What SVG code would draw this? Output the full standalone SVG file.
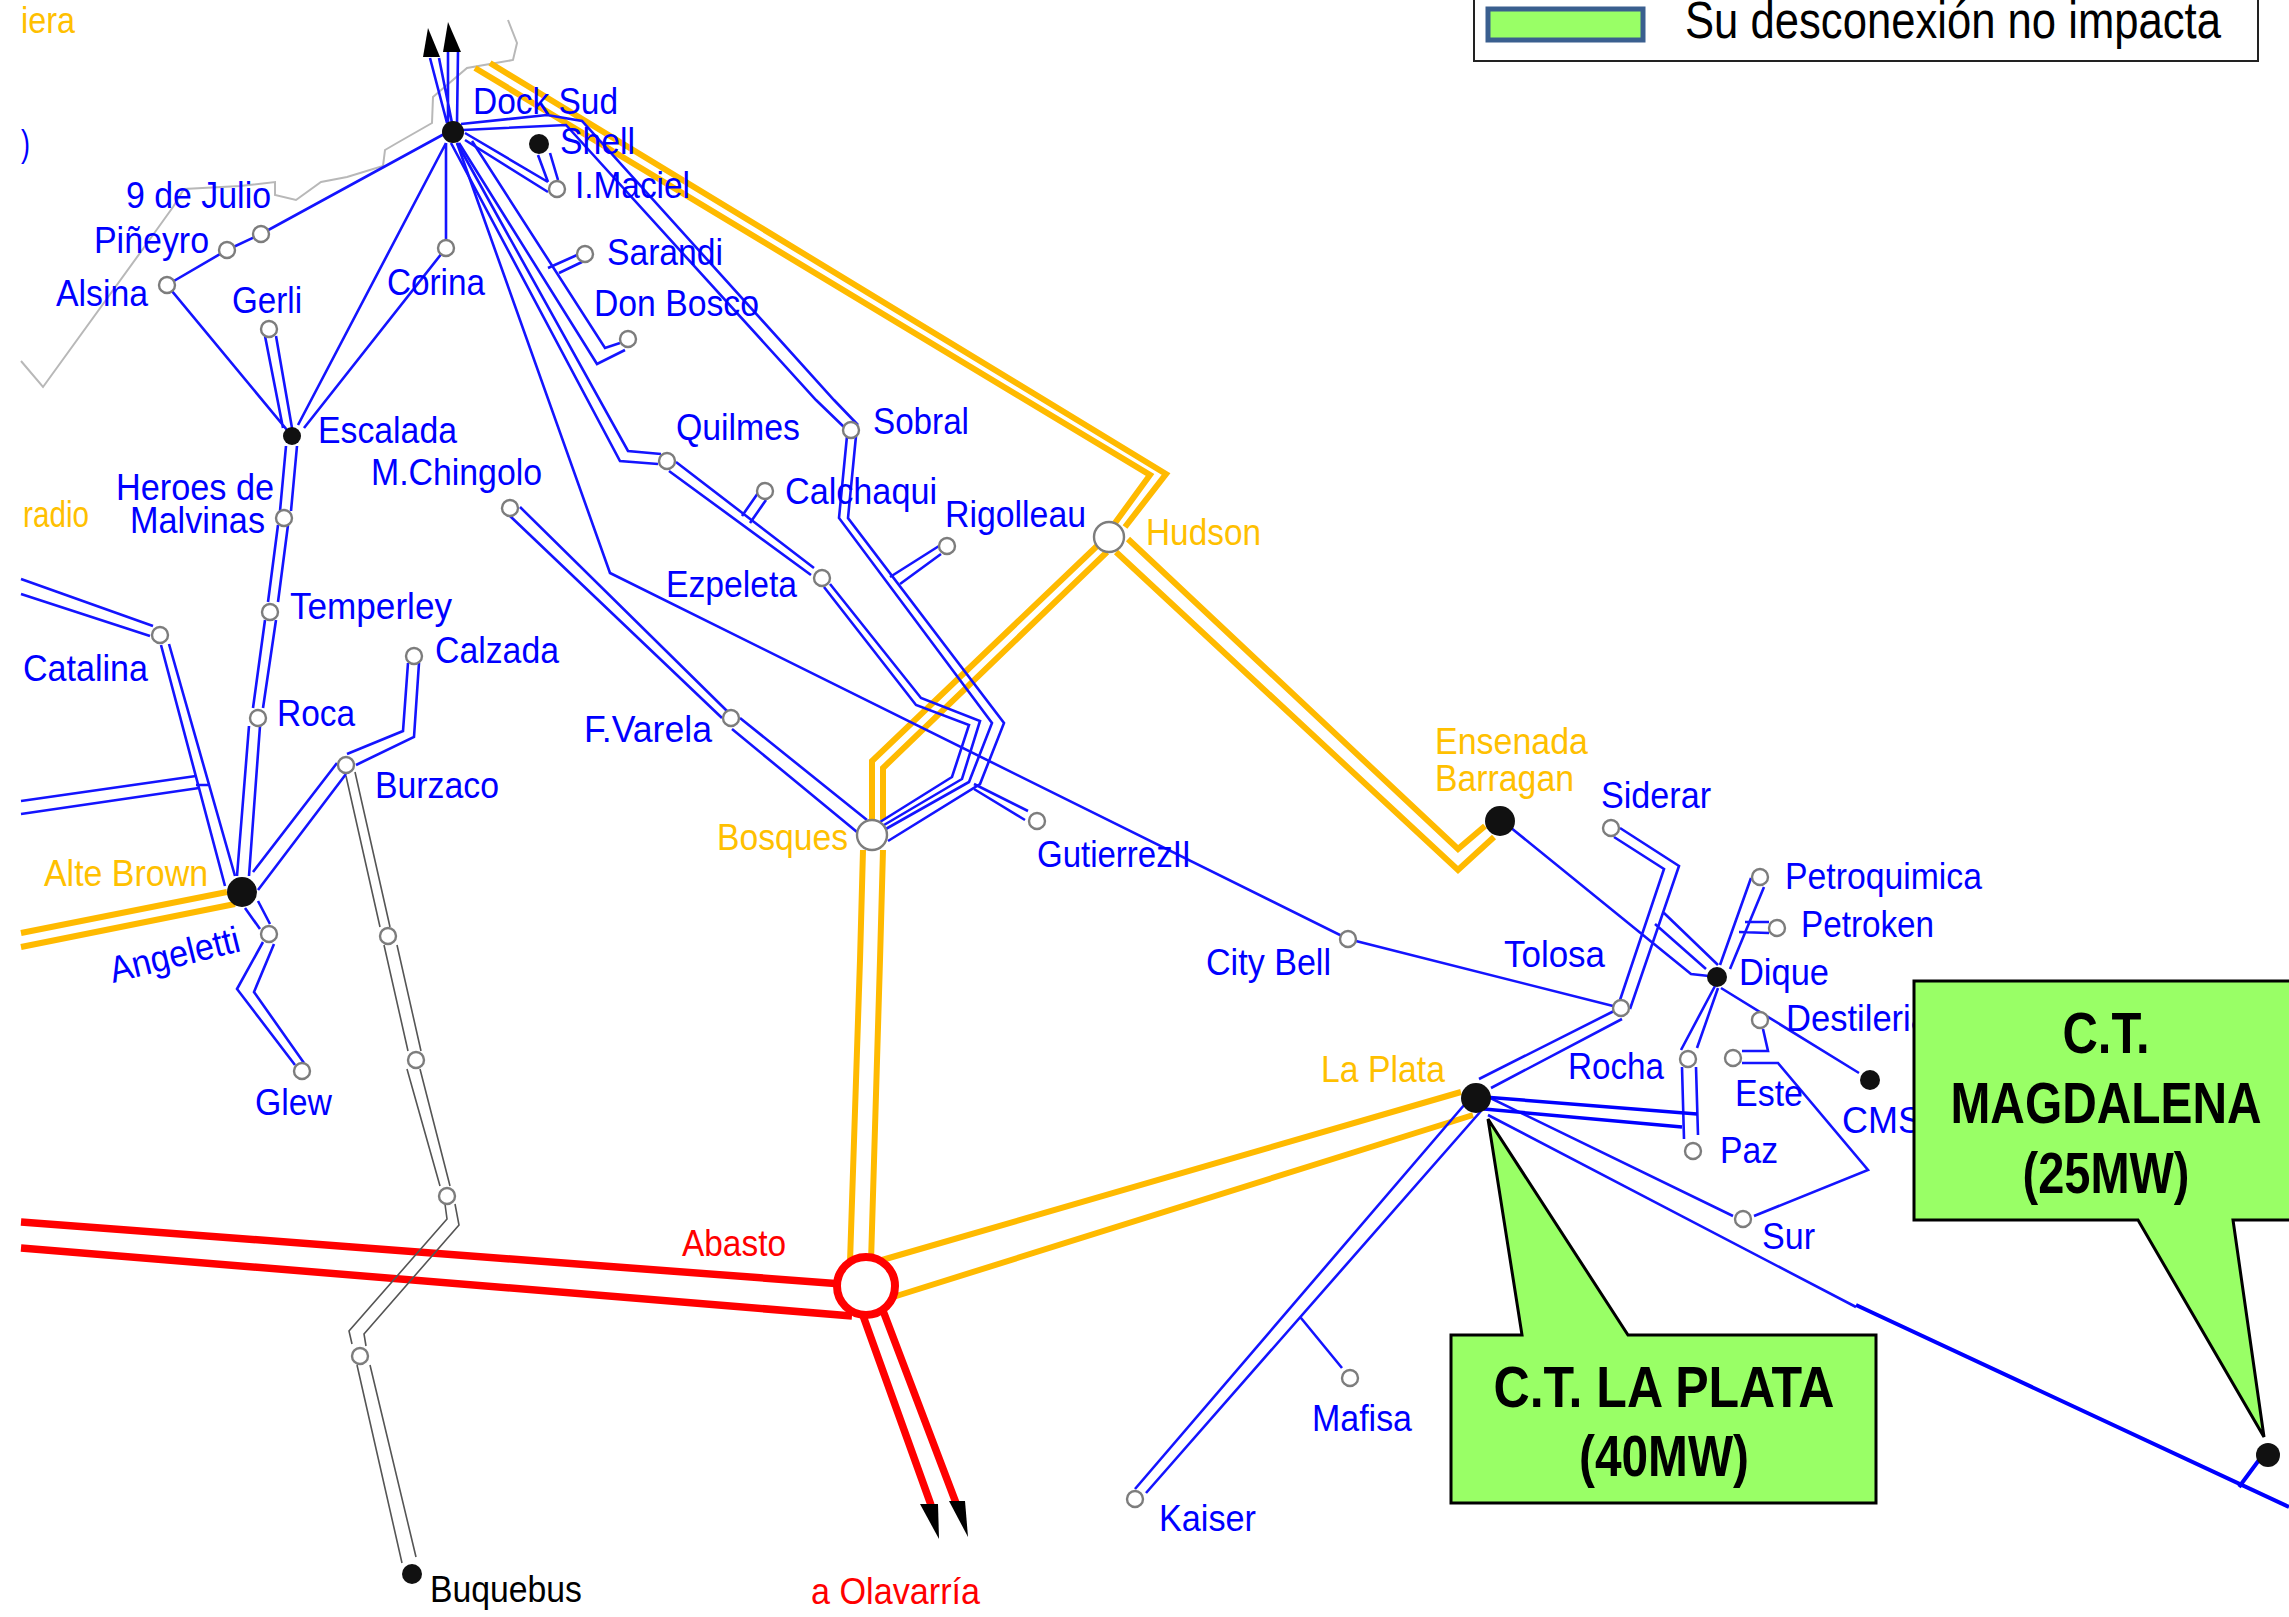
<svg xmlns="http://www.w3.org/2000/svg" width="2289" height="1617" viewBox="0 0 2289 1617">
<style>
text{font-family:"Liberation Sans",Arial,sans-serif;font-size:37px;fill:#0000ff}
.y{fill:#ffc000}.r{fill:#ff0000}.k{fill:#000}
.big{font-size:58px;font-weight:bold;fill:#000;text-anchor:middle}
.b,.bt,.yl,.rd,.g,.gl,.m{fill:none;stroke-linejoin:miter}
.b{stroke:#1414ff;stroke-width:2.6}
.bt{stroke:#0000ff;stroke-width:4}
.yl{stroke:#ffba00;stroke-width:6}
.rd{stroke:#ff0000;stroke-width:7.5}
.g{stroke:#555;stroke-width:1.6}
.gl{stroke:#b8b8b8;stroke-width:2}
.n{fill:#fff;stroke:#7d7d7d;stroke-width:2.4}
.h{fill:#111}
.arrow{fill:#000}
.call{fill:#99ff66;stroke:#000;stroke-width:3}
</style>
<rect width="2289" height="1617" fill="#fff"/>
<g id="connectors">
<path class="gl" d="M508 20L517 43L513 60L467 68L433 97L432 123L397 143L385 150L383 166L347 177L321 182L296 200L275 195L275 182L240 186L184 189L173 207L140 253L43 387L21 361"/>
<g id="red-lines">
<path class="rd" d="M21 1222L842 1284M21 1248L852 1316M861 1310L931 1505M882 1308L956 1503"/>
</g>
<g id="yellow-lines">
<path class="yl" d="M882 1260L1461 1092M890 1298L1473 1115M850 1262L860 960L863 850M871 1262L880 960L883 850M872 820L872 761L1097 546M883 820L883 768L1107 552M1115 523L1150 475L475 68M1125 527L1166 474L490 63M1116 552L1458 870L1494 837M1128 539L1458 849L1485 826M21 933L227 892M21 947L235 904"/>
</g>
<g id="grey-lines">
<path class="g" d="M346 776L380 927M355 772L390 927M384 945L408 1051M397 945L421 1051M407 1069L440 1186M420 1069L450 1186M445 1204L447 1219L349 1331L352 1344M455 1204L459 1225L364 1334L366 1346M357 1365L402 1563M370 1365L416 1557"/>
</g>
<g id="blue-lines">
<path class="b" d="M430 58L447 123M439 58L452 123M448 52L448 123M458 52L457 123"/>
<path class="b" d="M461 124L547 115L582 121L834 400L858 425M463 130L566 125L816 400L845 428"/>
<path class="b" d="M847 436L839 518L992 723L969 782L884 830M856 436L848 518L1004 723L980 784L888 841"/>
<path class="b" d="M446 133L261 234L227 250L167 285L292 436M446 143L298 425M446 143L446 248L304 428M265 336L283 428M276 336L292 428"/>
<path class="b" d="M465 133L548 182M465 140L548 192M538 155L548 182M550 153L558 180"/>
<path class="b" d="M472 141L605 348L620 343M459 143L597 364L625 350M548 268L577 255M559 273L582 262"/>
<path class="b" d="M457 143L628 451L661 454M451 143L620 461L658 464M676 462L814 568M669 471L811 575"/>
<path class="b" d="M830 584L921 698L980 721L962 779L884 825M824 587L916 705L969 725L952 777L880 822"/>
<path class="b" d="M974 784L1028 811M974 789L1025 820"/>
<path class="b" d="M742 516L758 493M750 523L766 500M890 577L939 546M900 584L941 554"/>
<path class="b" d="M457 143L610 573L1348 939L1621 1008"/>
<path class="b" d="M520 507L727 711M510 516L722 718M740 718L867 820M732 729L857 832"/>
<path class="b" d="M286 446L280 511M297 446L291 511M278 525L268 602M288 525L278 602M265 620L253 708M276 620L263 708M249 726L237 876M260 726L249 876"/>
<path class="b" d="M21 579L153 626M21 594L150 636M161 645L225 886M169 644L235 876M21 801L196 776M21 814L199 788M196 785L210 785"/>
<path class="b" d="M253 872L337 763M258 890L346 774M347 754L403 731L408 663M356 765L414 737L419 663"/>
<path class="b" d="M245 908L260 929M258 901L270 924M263 942L237 989L295 1065M274 944L254 992L304 1063"/>
<path class="b" d="M1505 823L1691 974L1709 976M1620 828L1679 866L1630 1009M1614 837L1664 869L1620 1000M1664 913L1718 965M1655 924L1706 969M1720 965L1751 878M1730 969L1764 887M1745 922L1769 922M1739 932L1769 933"/>
<path class="b" d="M1715 986L1681 1050M1718 988L1697 1048M1682 1067L1684 1139M1696 1067L1698 1135M1721 988L1859 1073M1763 1029L1768 1051L1742 1051M1742 1063L1778 1063L1868 1170L1754 1216"/>
<path class="b" d="M1479 1079L1614 1011M1491 1088L1622 1019M1480 1093L1733 1216M1488 1115L1856 1307M1465 1104L1135 1489M1481 1111L1146 1493M1301 1318L1342 1368"/>
<path class="bt" style="stroke-width:3.5" d="M1484 1097L1697 1114M1484 1109L1682 1127"/>
<path class="bt" d="M1856 1305L2289 1507M2259 1460L2239 1487"/>
</g>
<g id="arrowheads">
<polygon class="arrow" points="428,28 423,57 440,57"/>
<polygon class="arrow" points="448,22 443,52 461,52"/>
<polygon class="arrow" points="939,1539 920,1504 938,1504"/>
<polygon class="arrow" points="968,1537 949,1501 965,1501"/>
</g>
</g>
<g id="node-dock-sud"><circle class="h" cx="453" cy="132" r="11"/><text x="473" y="114" textLength="145" lengthAdjust="spacingAndGlyphs">Dock Sud</text></g>
<g id="node-shell"><circle class="h" cx="539" cy="144" r="10"/><text x="560" y="154" textLength="75" lengthAdjust="spacingAndGlyphs">Shell</text></g>
<g id="node-imaciel"><circle class="n" cx="557" cy="189" r="8"/><text x="575" y="198" textLength="115" lengthAdjust="spacingAndGlyphs">I.Maciel</text></g>
<g id="node-9dejulio"><circle class="n" cx="261" cy="234" r="8"/><text x="126" y="208" textLength="145" lengthAdjust="spacingAndGlyphs">9 de Julio</text></g>
<g id="node-pineyro"><circle class="n" cx="227" cy="250" r="8"/><text x="94" y="253" textLength="115" lengthAdjust="spacingAndGlyphs">Piñeyro</text></g>
<g id="node-alsina"><circle class="n" cx="167" cy="285" r="8"/><text x="56" y="306" textLength="92" lengthAdjust="spacingAndGlyphs">Alsina</text></g>
<g id="node-gerli"><circle class="n" cx="269" cy="329" r="8"/><text x="232" y="313" textLength="70" lengthAdjust="spacingAndGlyphs">Gerli</text></g>
<g id="node-corina"><circle class="n" cx="446" cy="248" r="8"/><text x="387" y="295" textLength="98" lengthAdjust="spacingAndGlyphs">Corina</text></g>
<g id="node-sarandi"><circle class="n" cx="585" cy="254" r="8"/><text x="607" y="265" textLength="116" lengthAdjust="spacingAndGlyphs">Sarandi</text></g>
<g id="node-don-bosco"><circle class="n" cx="628" cy="339" r="8"/><text x="594" y="316" textLength="165" lengthAdjust="spacingAndGlyphs">Don Bosco</text></g>
<g id="node-escalada"><circle class="h" cx="292" cy="436" r="9"/><text x="318" y="443" textLength="139" lengthAdjust="spacingAndGlyphs">Escalada</text></g>
<g id="node-chingolo"><circle class="n" cx="510" cy="508" r="8"/><text x="371" y="485" textLength="171" lengthAdjust="spacingAndGlyphs">M.Chingolo</text></g>
<g id="node-quilmes"><circle class="n" cx="667" cy="461" r="8"/><text x="676" y="440" textLength="124" lengthAdjust="spacingAndGlyphs">Quilmes</text></g>
<g id="node-heroes"><circle class="n" cx="284" cy="518" r="8"/><text x="116" y="500" textLength="158" lengthAdjust="spacingAndGlyphs">Heroes de</text><text x="130" y="533" textLength="135" lengthAdjust="spacingAndGlyphs">Malvinas</text></g>
<g id="node-temperley"><circle class="n" cx="270" cy="612" r="8"/><text x="290" y="619" textLength="162" lengthAdjust="spacingAndGlyphs">Temperley</text></g>
<g id="node-roca"><circle class="n" cx="258" cy="718" r="8"/><text x="277" y="726" textLength="78" lengthAdjust="spacingAndGlyphs">Roca</text></g>
<g id="node-catalina"><circle class="n" cx="160" cy="635" r="8"/><text x="23" y="681" textLength="125" lengthAdjust="spacingAndGlyphs">Catalina</text></g>
<g id="node-calzada"><circle class="n" cx="414" cy="656" r="8"/><text x="435" y="663" textLength="124" lengthAdjust="spacingAndGlyphs">Calzada</text></g>
<g id="node-burzaco"><circle class="n" cx="346" cy="765" r="8"/><text x="375" y="798" textLength="124" lengthAdjust="spacingAndGlyphs">Burzaco</text></g>
<g id="node-alte-brown"><circle class="h" cx="242" cy="892" r="15"/><text class="y" x="44" y="886" textLength="164" lengthAdjust="spacingAndGlyphs">Alte Brown</text></g>
<g id="node-angeletti"><circle class="n" cx="269" cy="934" r="8"/><text transform="translate(113 983) rotate(-14)" textLength="133" lengthAdjust="spacingAndGlyphs">Angeletti</text></g>
<g id="node-glew"><circle class="n" cx="302" cy="1071" r="8"/><text x="255" y="1115" textLength="77" lengthAdjust="spacingAndGlyphs">Glew</text></g>
<g id="node-grey-1"><circle class="n" cx="388" cy="936" r="8"/></g>
<g id="node-grey-2"><circle class="n" cx="416" cy="1060" r="8"/></g>
<g id="node-grey-3"><circle class="n" cx="447" cy="1196" r="8"/></g>
<g id="node-grey-4"><circle class="n" cx="360" cy="1356" r="8"/></g>
<g id="node-buquebus"><circle class="h" cx="412" cy="1574" r="10"/><text class="k" x="430" y="1602" textLength="152" lengthAdjust="spacingAndGlyphs">Buquebus</text></g>
<g id="node-fvarela"><circle class="n" cx="731" cy="718" r="8"/><text x="584" y="742" textLength="128" lengthAdjust="spacingAndGlyphs">F.Varela</text></g>
<g id="node-ezpeleta"><circle class="n" cx="822" cy="578" r="8"/><text x="666" y="597" textLength="131" lengthAdjust="spacingAndGlyphs">Ezpeleta</text></g>
<g id="node-calchaqui"><circle class="n" cx="765" cy="491" r="8"/><text x="785" y="504" textLength="152" lengthAdjust="spacingAndGlyphs">Calchaqui</text></g>
<g id="node-sobral"><circle class="n" cx="851" cy="430" r="8"/><text x="873" y="434" textLength="96" lengthAdjust="spacingAndGlyphs">Sobral</text></g>
<g id="node-rigolleau"><circle class="n" cx="947" cy="546" r="8"/><text x="945" y="527" textLength="141" lengthAdjust="spacingAndGlyphs">Rigolleau</text></g>
<g id="node-hudson"><circle class="n" cx="1109" cy="537" r="15"/><text class="y" x="1146" y="545" textLength="115" lengthAdjust="spacingAndGlyphs">Hudson</text></g>
<g id="node-bosques"><circle class="n" cx="872" cy="835" r="15"/><text class="y" x="717" y="850" textLength="131" lengthAdjust="spacingAndGlyphs">Bosques</text></g>
<g id="node-gutierrez"><circle class="n" cx="1037" cy="821" r="8"/><text x="1037" y="867" textLength="154" lengthAdjust="spacingAndGlyphs">GutierrezII</text></g>
<g id="node-city-bell"><circle class="n" cx="1348" cy="939" r="8"/><text x="1206" y="975" textLength="125" lengthAdjust="spacingAndGlyphs">City Bell</text></g>
<g id="node-abasto"><circle cx="866" cy="1286" r="29" fill="#fff" stroke="#ff0000" stroke-width="8"/><text class="r" x="682" y="1256" textLength="104" lengthAdjust="spacingAndGlyphs">Abasto</text></g>
<g id="label-olavarria"><text class="r" x="811" y="1604" textLength="169" lengthAdjust="spacingAndGlyphs">a Olavarría</text></g>
<g id="node-ensenada"><circle class="h" cx="1500" cy="821" r="15"/><text class="y" x="1435" y="754" textLength="153" lengthAdjust="spacingAndGlyphs">Ensenada</text><text class="y" x="1435" y="791" textLength="139" lengthAdjust="spacingAndGlyphs">Barragan</text></g>
<g id="node-siderar"><circle class="n" cx="1611" cy="828" r="8"/><text x="1601" y="808" textLength="110" lengthAdjust="spacingAndGlyphs">Siderar</text></g>
<g id="node-petroquimica"><circle class="n" cx="1760" cy="877" r="8"/><text x="1785" y="889" textLength="197" lengthAdjust="spacingAndGlyphs">Petroquimica</text></g>
<g id="node-petroken"><circle class="n" cx="1777" cy="928" r="8"/><text x="1801" y="937" textLength="133" lengthAdjust="spacingAndGlyphs">Petroken</text></g>
<g id="node-tolosa"><circle class="n" cx="1621" cy="1008" r="8"/><text x="1504" y="967" textLength="101" lengthAdjust="spacingAndGlyphs">Tolosa</text></g>
<g id="node-dique"><circle class="h" cx="1717" cy="977" r="10"/><text x="1739" y="985" textLength="90" lengthAdjust="spacingAndGlyphs">Dique</text></g>
<g id="node-destileria"><circle class="n" cx="1760" cy="1020" r="8"/><text x="1786" y="1031" textLength="144" lengthAdjust="spacingAndGlyphs">Destileria</text></g>
<g id="node-rocha"><circle class="n" cx="1688" cy="1059" r="8"/><text x="1568" y="1079" textLength="96" lengthAdjust="spacingAndGlyphs">Rocha</text></g>
<g id="node-este"><circle class="n" cx="1733" cy="1058" r="8"/><text x="1735" y="1106" textLength="68" lengthAdjust="spacingAndGlyphs">Este</text></g>
<g id="node-cms"><circle class="h" cx="1870" cy="1080" r="10"/><text x="1842" y="1133" textLength="80" lengthAdjust="spacingAndGlyphs">CMS</text></g>
<g id="node-paz"><circle class="n" cx="1693" cy="1151" r="8"/><text x="1720" y="1163" textLength="58" lengthAdjust="spacingAndGlyphs">Paz</text></g>
<g id="node-sur"><circle class="n" cx="1743" cy="1219" r="8"/><text x="1762" y="1249" textLength="53" lengthAdjust="spacingAndGlyphs">Sur</text></g>
<g id="node-la-plata"><circle class="h" cx="1476" cy="1098" r="15"/><text class="y" x="1321" y="1082" textLength="124" lengthAdjust="spacingAndGlyphs">La Plata</text></g>
<g id="node-mafisa"><circle class="n" cx="1350" cy="1378" r="8"/><text x="1312" y="1431" textLength="100" lengthAdjust="spacingAndGlyphs">Mafisa</text></g>
<g id="node-kaiser"><circle class="n" cx="1135" cy="1499" r="8"/><text x="1159" y="1531" textLength="97" lengthAdjust="spacingAndGlyphs">Kaiser</text></g>
<g id="node-magdalena-bus"><circle class="h" cx="2268" cy="1455" r="12"/></g>
<g id="labels-clipped"><text class="y" x="21" y="33" textLength="54" lengthAdjust="spacingAndGlyphs">iera</text><text x="21" y="156" textLength="9" lengthAdjust="spacingAndGlyphs">)</text><text class="y" x="23" y="527" textLength="66" lengthAdjust="spacingAndGlyphs">radio</text></g>
<g id="callout-la-plata"><path class="call" d="M1451 1335H1522L1488 1119L1628 1335H1876V1503H1451Z"/><text class="big" x="1664" y="1407" textLength="341" lengthAdjust="spacingAndGlyphs">C.T. LA PLATA</text><text class="big" x="1664" y="1476" textLength="170" lengthAdjust="spacingAndGlyphs">(40MW)</text></g>
<g id="callout-magdalena"><path class="call" d="M1914 981H2295V1220H2233L2264 1437L2138 1220H1914Z"/><text class="big" x="2106" y="1053" textLength="87" lengthAdjust="spacingAndGlyphs">C.T.</text><text class="big" x="2106" y="1123" textLength="311" lengthAdjust="spacingAndGlyphs">MAGDALENA</text><text class="big" x="2106" y="1193" textLength="167" lengthAdjust="spacingAndGlyphs">(25MW)</text></g>
<g id="legend"><rect x="1474" y="-6" width="784" height="67" fill="#fff" stroke="#222" stroke-width="2"/><rect x="1488" y="9" width="155" height="31" fill="#99ff66" stroke="#3a5f8f" stroke-width="5"/><text class="k" x="1685" y="38" textLength="536" lengthAdjust="spacingAndGlyphs" style="font-size:52px">Su desconexión no impacta</text></g>
</svg>
